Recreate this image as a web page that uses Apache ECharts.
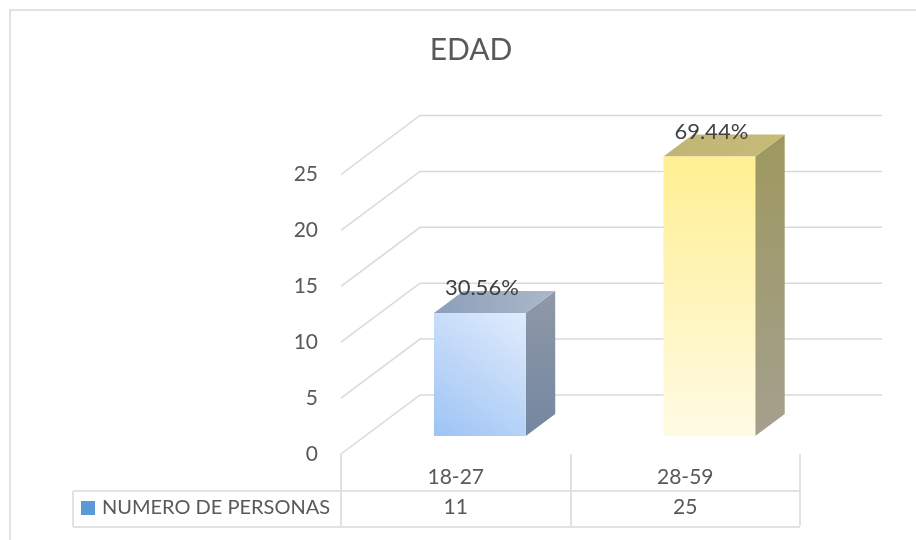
<!DOCTYPE html>
<html><head><meta charset="utf-8">
<script src="https://cdn.jsdelivr.net/npm/echarts@6/dist/echarts.min.js"></script>
<style>html,body{margin:0;padding:0;background:#fff}#c{width:916px;height:540px}</style>
</head><body><div id="c"></div>
<script>
const chartTitle = 'EDAD';
const seriesName = 'NUMERO DE PERSONAS';
const categories = ['18-27', '28-59'];
const values = [11, 25];
const percentLabels = ['30.56%', '69.44%'];
const yTicks = [0, 5, 10, 15, 20, 25];

// 3D look (styling / geometry constants)
const DX = 79, DY = 59;          // full floor depth offset
const D0 = 0.305, DD = 0.373;    // bar depth start and depth size (fraction)
const BAR_W = 0.40;              // fraction of band
const FONT = 'Lato, "Open Sans", sans-serif';
const G = echarts.graphic.LinearGradient;
const barStyles = [
  {
    front: new G(0, 1, 1, 0, [{offset: 0, color: '#9dc3f4'}, {offset: 1, color: '#e1ecfc'}]),
    top: new G(0, 0, 1, 0, [{offset: 0, color: '#8c9eba'}, {offset: 1, color: '#abb8c9'}]),
    side: new G(0, 0, 0, 1, [{offset: 0, color: '#8f98a6'}, {offset: 1, color: '#7487a1'}])
  },
  {
    front: new G(0, 0, 0, 1, [{offset: 0, color: '#ffef92'}, {offset: 1, color: '#fffbe4'}]),
    top: new G(0, 0, 1, 0, [{offset: 0, color: '#c0b574'}, {offset: 1, color: '#c7bb78'}]),
    side: new G(0, 0, 0, 1, [{offset: 0, color: '#9e985f'}, {offset: 1, color: '#a4a08e'}])
  }
];

const chart = echarts.init(document.getElementById('c'), null, {renderer: 'canvas'});

const option = {
  backgroundColor: '#ffffff',
  animation: false,
  textStyle: {fontFamily: FONT},
  title: {
    text: chartTitle, left: 471, top: 35, textAlign: 'center', padding: 0,
    textStyle: {fontFamily: FONT, fontSize: 30, fontWeight: 'normal', color: '#595959'}
  },
  legend: {
    data: [seriesName], left: 81, top: 498, padding: 0,
    icon: 'rect', itemWidth: 14, itemHeight: 14,
    textStyle: {fontFamily: FONT, fontSize: 20, color: '#595959', padding: [0, 0, 0, 2]}
  },
  grid: {left: 341, right: 116, top: 174.5, bottom: 86, containLabel: false},
  xAxis: [
    {
      type: 'category', data: categories, boundaryGap: true,
      axisLine: {show: false},
      axisTick: {show: true, interval: 0, length: 72, lineStyle: {color: '#d9d9d9', width: 1.5}},
      axisLabel: {margin: 13, fontFamily: FONT, fontSize: 21, color: '#595959', interval: 0},
      splitLine: {show: false}
    },
    {
      type: 'category', data: values.map(String), position: 'bottom', offset: 30,
      axisLine: {show: false}, axisTick: {show: false},
      axisLabel: {margin: 13, fontFamily: FONT, fontSize: 21, color: '#595959', interval: 0},
      splitLine: {show: false}
    }
  ],
  yAxis: {
    type: 'value', min: 0, max: 25, interval: 5,
    axisLine: {show: false}, axisTick: {show: false}, splitLine: {show: false},
    axisLabel: {margin: 23, fontFamily: FONT, fontSize: 21, color: '#595959'}
  },
  graphic: [
    {type: 'rect', shape: {x: 10, y: 10, width: 1000, height: 1000}, style: {fill: 'none', stroke: '#d9d9d9', lineWidth: 1.5}, z: 0},
    {type: 'line', shape: {x1: 73, y1: 491, x2: 800, y2: 491}, style: {stroke: '#d9d9d9', lineWidth: 1.5}},
    {type: 'line', shape: {x1: 73, y1: 527, x2: 800, y2: 527}, style: {stroke: '#d9d9d9', lineWidth: 1.5}},
    {type: 'line', shape: {x1: 73, y1: 491, x2: 73, y2: 527}, style: {stroke: '#d9d9d9', lineWidth: 1.5}}
  ],
  series: [
    {
      type: 'custom', name: 'walls', z: 1, silent: true,
      data: yTicks.map(v => [0, v]),
      encode: {x: 0, y: 1},
      renderItem: function (params, api) {
        const v = api.value(1);
        const pL = api.coord([0, v]);
        const pR = api.coord([categories.length - 1, v]);
        const band = api.size([1, 0])[0];
        const xl = pL[0] - band / 2, xr = pR[0] + band / 2, y = pL[1];
        return {
          type: 'polyline',
          shape: {points: [[xl, y], [xl + DX, y - DY], [xr + DX + 3, y - DY]]},
          style: {stroke: '#d9d9d9', lineWidth: 1.5, fill: 'none'}
        };
      }
    },
    {
      type: 'custom', name: seriesName, z: 5,
      itemStyle: {color: '#5B9BD5'},
      data: values.map((v, i) => [i, v]),
      encode: {x: 0, y: 1},
      renderItem: function (params, api) {
        const i = api.value(0), v = api.value(1);
        const base = api.coord([i, 0]);
        const top = api.coord([i, v]);
        const band = api.size([1, 0])[0];
        const w = band * BAR_W;
        const ox = D0 * DX, oy = D0 * DY;
        const x0 = base[0] - w / 2 + ox, x1 = x0 + w;
        const yb = base[1] - oy, yt = top[1] - oy;
        const ddx = DD * DX, ddy = DD * DY;
        const st = barStyles[i % barStyles.length];
        return {
          type: 'group',
          children: [
            {type: 'polygon', shape: {points: [[x1, yb], [x1, yt], [x1 + ddx, yt - ddy], [x1 + ddx, yb - ddy]]}, style: {fill: st.side}},
            {type: 'polygon', shape: {points: [[x0, yt], [x1, yt], [x1 + ddx, yt - ddy], [x0 + ddx, yt - ddy]]}, style: {fill: st.top}},
            {type: 'rect', shape: {x: x0, y: yt, width: w, height: yb - yt}, style: {fill: st.front}},
            {type: 'text', style: {text: percentLabels[i], x: (x0 + x1) / 2 + 2, y: yt - ddy - 3, align: 'center', verticalAlign: 'middle', fill: '#404040', font: '22px ' + FONT}}
          ]
        };
      }
    }
  ]
};
chart.setOption(option);
</script></body></html>
